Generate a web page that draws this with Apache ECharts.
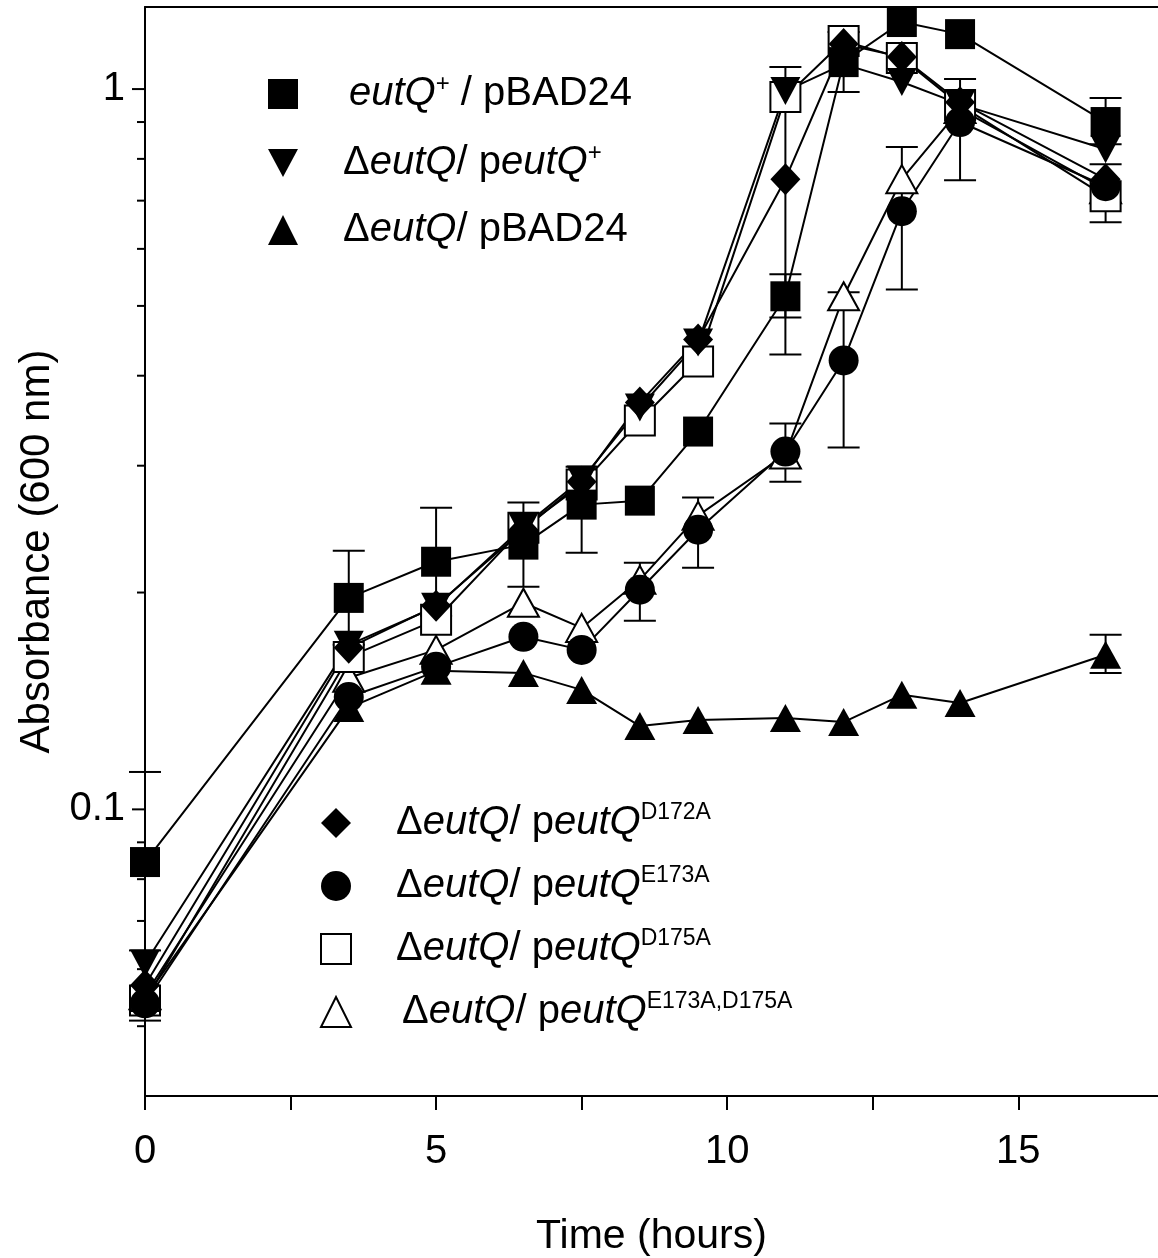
<!DOCTYPE html>
<html><head><meta charset="utf-8">
<script src="https://cdn.jsdelivr.net/npm/echarts@6/dist/echarts.min.js"></script>
<style>html,body{margin:0;padding:0;background:#fff}#c{width:1158px;height:1258px}</style>
</head><body><div id="c"></div>
<script>
// ---- data ----
const times = [0, 3.5, 5, 6.5, 7.5, 8.5, 9.5, 11, 12, 13, 14, 16.5];

const wtPbad      = [0.0845, 0.1966, 0.2207, 0.2331, 0.2649, 0.2683, 0.3346, 0.5156, 1.090, 1.239, 1.192, 0.900];
const delPeutQ    = [0.0611, 0.1692, 0.1911, 0.2469, 0.2870, 0.3613, 0.4449, 0.9936, 1.083, 1.023, 0.953, 0.825];
const delPbad     = [0.0547, 0.1383, 0.1557, 0.1547, 0.1465, 0.1305, 0.1331, 0.1339, 0.1322, 0.1442, 0.1405, 0.1639];
const d172a       = [0.0570, 0.1676, 0.1917, 0.2445, 0.2851, 0.3671, 0.4490, 0.7497, 1.155, 1.108, 0.959, 0.7497];
const e173a       = [0.0538, 0.1432, 0.1577, 0.1736, 0.1665, 0.2018, 0.2445, 0.3139, 0.4200, 0.6767, 0.900, 0.7330];
const d175a       = [0.0543, 0.1628, 0.1833, 0.2461, 0.2824, 0.3466, 0.4185, 0.9747, 1.166, 1.104, 0.950, 0.7097];
const e173aD175a  = [0.0552, 0.1523, 0.1665, 0.1936, 0.1786, 0.2083, 0.2557, 0.3109, 0.5156, 0.7497, 0.938, 0.7261];

// error bars: [time, low, high]
const errWtPbad   = [[0, 0.0637, 0.1127], [3.5, 0.1692, 0.2286], [5, 0.1857, 0.2623], [6.5, 0.2037, 0.2668],
                     [7.5, 0.2271, 0.2991], [11, 0.4819, 0.5531], [12, 0.9904, 1.20], [16.5, 0.8386, 0.9716]];
const errD172a    = [[11, 0.4281, 1.073]];
const errE173a    = [[0, 0.0509, 0.0568], [8.5, 0.1828, 0.2200], [9.5, 0.2165, 0.2709], [11, 0.2851, 0.3433],
                     [12, 0.3179, 0.5222], [13, 0.5271, 0.8307], [14, 0.7472, 1.0325], [16.5, 0.6533, 0.7866]];
const errDelPbad  = [[16.5, 0.1547, 0.1747]];

const xTicks = [0, 2.5, 5, 7.5, 10, 12.5, 15];
const xLabeled = [0, 5, 10, 15];
const yLabeled = [0.1, 1];
const yMinorTicks = [0.05, 0.06, 0.07, 0.08, 0.09, 0.2, 0.3, 0.4, 0.5, 0.6, 0.7, 0.8, 0.9];

const names = {
  wt: 'eutQ+ / pBAD24', dp: 'ΔeutQ/ peutQ+', db: 'ΔeutQ/ pBAD24',
  d172: 'ΔeutQ/ peutQ D172A', e173: 'ΔeutQ/ peutQ E173A', d175: 'ΔeutQ/ peutQ D175A', ed: 'ΔeutQ/ peutQ E173A,D175A'
};
const richLabels = {
  [names.wt]:   '{sp1| }{it|eutQ}{sup|+}{n| / pBAD24}',
  [names.dp]:   '{sp2| }{n|Δ}{it|eutQ}{n|/ p}{it|eutQ}{sup|+}',
  [names.db]:   '{sp2| }{n|Δ}{it|eutQ}{n|/ pBAD24}',
  [names.d172]: '{sp3| }{n|Δ}{it|eutQ}{n|/ p}{it|eutQ}{sup2|D172A}',
  [names.e173]: '{sp3| }{n|Δ}{it|eutQ}{n|/ p}{it|eutQ}{sup2|E173A}',
  [names.d175]: '{sp3| }{n|Δ}{it|eutQ}{n|/ p}{it|eutQ}{sup2|D175A}',
  [names.ed]:   '{sp4| }{n|Δ}{it|eutQ}{n|/ p}{it|eutQ}{sup2|E173A,D175A}'
};

const FONT = '"Liberation Sans", Arial, sans-serif';
const downTri = 'path://M0,0L30,0L15,28Z';
const filled = {color: '#000'};
const open = {color: '#fff', borderColor: '#000', borderWidth: 2};

function pairs(vals) { return times.map((t, i) => [t, vals[i]]); }

function lineSeries(name, vals, symbol, size, style) {
  return {
    type: 'line', name: name, data: pairs(vals), symbol: symbol, symbolSize: size,
    showSymbol: true, lineStyle: {color: '#000', width: 2}, itemStyle: style,
    emphasis: {disabled: true}, z: 3, animation: false
  };
}

function errSeries(data) {
  return {
    type: 'custom', data: data, z: 2, silent: true, animation: false,
    encode: {x: 0, y: [1, 2]},
    renderItem: function (params, api) {
      const x = api.value(0);
      const lo = api.coord([x, api.value(1)]);
      const hi = api.coord([x, api.value(2)]);
      const hw = 16;
      const st = {stroke: '#000', lineWidth: 2};
      return {type: 'group', children: [
        {type: 'line', shape: {x1: lo[0], y1: lo[1], x2: hi[0], y2: hi[1]}, style: st},
        {type: 'line', shape: {x1: lo[0] - hw, y1: lo[1], x2: lo[0] + hw, y2: lo[1]}, style: st},
        {type: 'line', shape: {x1: hi[0] - hw, y1: hi[1], x2: hi[0] + hw, y2: hi[1]}, style: st}
      ]};
    }
  };
}

function tickSeries(values, len) {
  return {
    type: 'custom', data: values.map(v => [0, v]), z: 5, silent: true, clip: false, animation: false,
    renderItem: function (params, api) {
      const p = api.coord([api.value(0), api.value(1)]);
      return {type: 'line', shape: {x1: p[0] - len, y1: p[1], x2: p[0], y2: p[1]},
              style: {stroke: '#000', lineWidth: 2}};
    }
  };
}

const rich = {
  sp1: {width: 46, fontSize: 40, lineHeight: 44},
  sp2: {width: 40, fontSize: 40, lineHeight: 44},
  sp3: {width: 40, fontSize: 40, lineHeight: 44},
  sp4: {width: 46, fontSize: 40, lineHeight: 44},
  n: {fontSize: 40, fontFamily: FONT, color: '#000', lineHeight: 44},
  it: {fontSize: 40, fontFamily: FONT, fontStyle: 'italic', color: '#000', lineHeight: 44},
  sup: {fontSize: 24, fontFamily: FONT, color: '#000', verticalAlign: 'top', lineHeight: 26},
  sup2: {fontSize: 23, fontFamily: FONT, color: '#000', verticalAlign: 'top', lineHeight: 26}
};

function legend(items, left, top, gap) {
  return {
    orient: 'vertical', left: left, top: top, padding: 0, itemGap: gap,
    itemWidth: 30, itemHeight: 30, selectedMode: false,
    data: items,
    formatter: n => richLabels[n],
    textStyle: {color: '#000', fontFamily: FONT, fontSize: 40, rich: rich}
  };
}

const chart = echarts.init(document.getElementById('c'), null, {renderer: 'canvas'});
chart.setOption({
  backgroundColor: '#fff',
  animation: false,
  grid: {left: 145, right: 0, top: 7, bottom: 162, show: false,
         containLabel: false, outerBoundsMode: 'none'},
  xAxis: [{
    type: 'value', min: 0, max: 17.4, interval: 2.5,
    name: 'Time (hours)', nameLocation: 'middle', nameGap: 120,
    nameTextStyle: {fontSize: 41, fontFamily: FONT, color: '#000'},
    axisLine: {lineStyle: {color: '#000', width: 2}},
    axisTick: {length: 14, lineStyle: {color: '#000', width: 2}, customValues: xTicks},
    axisLabel: {fontSize: 40, fontFamily: FONT, color: '#000', margin: 36, customValues: xLabeled,
                formatter: v => xLabeled.includes(v) ? String(v) : ''},
    splitLine: {show: false}
  }, {
    type: 'value', position: 'top', min: 0, max: 17.4,
    axisLine: {show: true, lineStyle: {color: '#000', width: 2}},
    axisTick: {show: false}, axisLabel: {show: false}, splitLine: {show: false}
  }],
  yAxis: {
    type: 'log', logBase: 10, min: 0.04, max: 1.3,
    name: 'Absorbance (600 nm)', nameLocation: 'middle', nameGap: 86, nameRotate: 90,
    nameTextStyle: {fontSize: 42, fontFamily: FONT, color: '#000'},
    axisLine: {lineStyle: {color: '#000', width: 2}},
    axisTick: {show: false},
    axisLabel: {fontSize: 40, fontFamily: FONT, color: '#000', margin: 20,
                formatter: v => yLabeled.some(l => Math.abs(l - v) < 1e-9) ? String(v) : ''},
    splitLine: {show: false}, minorTick: {show: false}
  },
  legend: [
    legend([
      {name: names.wt, icon: 'rect', itemStyle: filled},
      {name: names.dp, icon: downTri, itemStyle: filled},
      {name: names.db, icon: 'triangle', itemStyle: filled}
    ], 268, 72, 27),
    legend([
      {name: names.d172, icon: 'diamond', itemStyle: filled},
      {name: names.e173, icon: 'circle', itemStyle: filled},
      {name: names.d175, icon: 'rect', itemStyle: open},
      {name: names.ed, icon: 'triangle', itemStyle: open}
    ], 320, 801, 21)
  ],
  series: [
    errSeries(errWtPbad), errSeries(errD172a), errSeries(errE173a), errSeries(errDelPbad),
    tickSeries(yLabeled, 13), tickSeries(yMinorTicks, 8),
    lineSeries(names.ed, e173aD175a, 'triangle', [31, 28], open),
    lineSeries(names.d175, d175a, 'rect', 30, open),
    lineSeries(names.e173, e173a, 'circle', 30, filled),
    lineSeries(names.db, delPbad, 'triangle', [31, 28], filled),
    lineSeries(names.d172, d172a, 'diamond', [30, 32], filled),
    lineSeries(names.dp, delPeutQ, downTri, [30, 28], filled),
    lineSeries(names.wt, wtPbad, 'rect', 30, filled)
  ]
});
</script>
</body></html>
